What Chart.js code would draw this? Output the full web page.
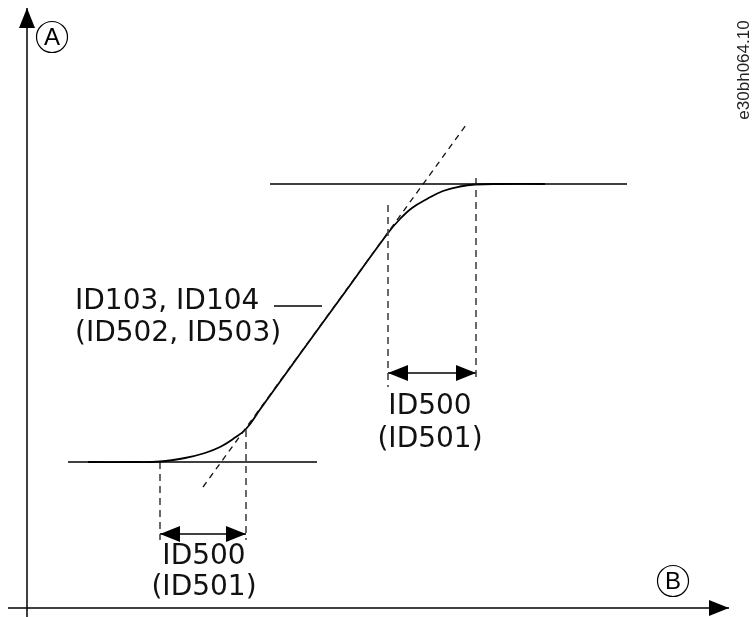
<!DOCTYPE html>
<html>
<head>
<meta charset="utf-8">
<script src="https://cdn.jsdelivr.net/npm/chart.js@4.4.1/dist/chart.umd.min.js"></script>
<style>
  html, body { margin: 0; padding: 0; background: #fff; }
  #wrap { width: 752px; height: 617px; }
</style>
</head>
<body>
<div id="wrap"><canvas id="myChart" width="752" height="617"></canvas></div>
<script>
// Curva de rampa en S (unidades del diagrama, origen en el cruce de ejes)
const curveX = [61, 103, 133, 158, 178, 193, 206, 219, 233, 273, 313, 361, 373, 385, 400, 416, 433, 448, 473, 518];
const curveY = [146, 146, 146.5, 150, 155, 161, 169, 179, 198.5, 254, 309, 375, 389, 400, 409, 417, 421.5, 423.5, 424, 424];

// Tangente de la parte lineal
const tangentX = [176, 439];
const tangentY = [121, 483];

// Niveles inicial y final
const lowLevelX = [41, 290];
const lowLevelY = [146, 146];
const highLevelX = [243, 600];
const highLevelY = [424, 424];

// Lineas verticales de las zonas de redondeo
const markX = [133, 219, 361, 449];
const markTop = [146, 178, 403, 430];
const markBottom = [68, 68, 221, 228];

// Flechas dobles (ID500)
const spanStart = [133, 361];
const spanEnd = [219, 449];
const spanY = [74, 235];

// Ejes
const axisXRange = [-19, 702];
const axisYRange = [-9, 600];

// Textos
const labelText = ['ID500', '(ID501)', 'ID500', '(ID501)', 'ID103, ID104', '(ID502, ID503)'];
const labelX = [177, 177, 403, 403, 48, 48];
const labelY = [51, 20, 201, 168, 306, 274];
const labelAlign = ['center', 'center', 'center', 'center', 'left', 'left'];
const leaderX = [247, 295];
const leaderY = [302, 302];

const circleText = ['A', 'B'];
const circleX = [25, 646];
const circleY = [571, 27];

function pts(xs, ys) {
    return xs.map((x, i) => ({ x: x, y: ys[i] }));
}

const datasets = [];

function addLine(data, opts) {
    datasets.push(Object.assign({
        data: data,
        showLine: true,
        borderColor: '#000',
        borderWidth: 1.5,
        pointRadius: 0,
        fill: false,
        tension: 0
    }, opts));
}

// ejes
addLine(pts([0, 0], axisYRange), { borderWidth: 1.5, arrowEnd: true });
addLine(pts(axisXRange, [0, 0]), { borderWidth: 1.5, arrowEnd: true });

// niveles
addLine(pts(lowLevelX, lowLevelY), { borderWidth: 1.3 });
addLine(pts(highLevelX, highLevelY), { borderWidth: 1.3 });

// verticales punteadas
for (let i = 0; i < markX.length; i++) {
    addLine(pts([markX[i], markX[i]], [markTop[i], markBottom[i]]), {
        borderColor: '#444', borderWidth: 1.6, borderDash: [7, 5]
    });
}

// tangente
addLine(pts(tangentX, tangentY), { borderColor: '#111', borderWidth: 1.3, borderDash: [6, 5] });

// curva
addLine(pts(curveX, curveY), { borderWidth: 1.8, tension: 0.4 });

// flechas dobles
for (let i = 0; i < spanStart.length; i++) {
    addLine(pts([spanStart[i], spanEnd[i]], [spanY[i], spanY[i]]), {
        borderWidth: 1.5, arrowStart: true, arrowEnd: true
    });
}

// linea guia del texto
addLine(pts(leaderX, leaderY), { borderWidth: 1.3 });

function arrowHead(ctx, fx, fy, tx, ty, len, half) {
    const a = Math.atan2(ty - fy, tx - fx);
    ctx.beginPath();
    ctx.moveTo(tx, ty);
    ctx.lineTo(tx - len * Math.cos(a) + half * Math.sin(a), ty - len * Math.sin(a) - half * Math.cos(a));
    ctx.lineTo(tx - len * Math.cos(a) - half * Math.sin(a), ty - len * Math.sin(a) + half * Math.cos(a));
    ctx.closePath();
    ctx.fill();
}

const diagramPlugin = {
    id: 'diagram',
    afterDatasetsDraw(chart) {
        const ctx = chart.ctx;
        const xs = chart.scales.x;
        const ys = chart.scales.y;
        ctx.save();
        ctx.fillStyle = '#000';

        // puntas de flecha
        chart.data.datasets.forEach(ds => {
            const d = ds.data;
            const p0 = { x: xs.getPixelForValue(d[0].x), y: ys.getPixelForValue(d[0].y) };
            const p1 = { x: xs.getPixelForValue(d[1].x), y: ys.getPixelForValue(d[1].y) };
            if (ds.arrowEnd) arrowHead(ctx, p0.x, p0.y, p1.x, p1.y, 20, 8);
            if (ds.arrowStart) arrowHead(ctx, p1.x, p1.y, p0.x, p0.y, 20, 8);
        });

        // textos
        ctx.font = '28px "DejaVu Sans", Verdana, sans-serif';
        ctx.textBaseline = 'middle';
        ctx.fillStyle = '#111';
        for (let i = 0; i < labelText.length; i++) {
            ctx.textAlign = labelAlign[i];
            ctx.fillText(labelText[i], xs.getPixelForValue(labelX[i]), ys.getPixelForValue(labelY[i]));
        }

        // letras en circulo
        ctx.lineWidth = 1.2;
        ctx.strokeStyle = '#000';
        ctx.textAlign = 'center';
        ctx.font = '24px "Liberation Sans", Arial, sans-serif';
        for (let i = 0; i < circleText.length; i++) {
            const cx = xs.getPixelForValue(circleX[i]);
            const cy = ys.getPixelForValue(circleY[i]);
            ctx.beginPath();
            ctx.arc(cx, cy, 15.5, 0, Math.PI * 2);
            ctx.stroke();
            ctx.fillStyle = '#000';
            ctx.fillText(circleText[i], cx, cy + 1);
        }

        // codigo del dibujo, vertical
        ctx.translate(chart.width - 8, 70);
        ctx.rotate(-Math.PI / 2);
        ctx.font = '17px "Liberation Sans", Arial, sans-serif';
        ctx.fillStyle = '#222';
        ctx.fillText('e30bh064.10', 0, 0);
        ctx.restore();
    }
};

new Chart(document.getElementById('myChart'), {
    type: 'scatter',
    data: { datasets: datasets },
    options: {
        responsive: false,
        animation: false,
        layout: { padding: 0 },
        plugins: {
            legend: { display: false },
            tooltip: { enabled: false },
            title: { display: false }
        },
        scales: {
            x: { type: 'linear', min: -27, max: 725, display: false },
            y: { type: 'linear', min: -9, max: 608, display: false }
        }
    },
    plugins: [diagramPlugin]
});
</script>
</body>
</html>
